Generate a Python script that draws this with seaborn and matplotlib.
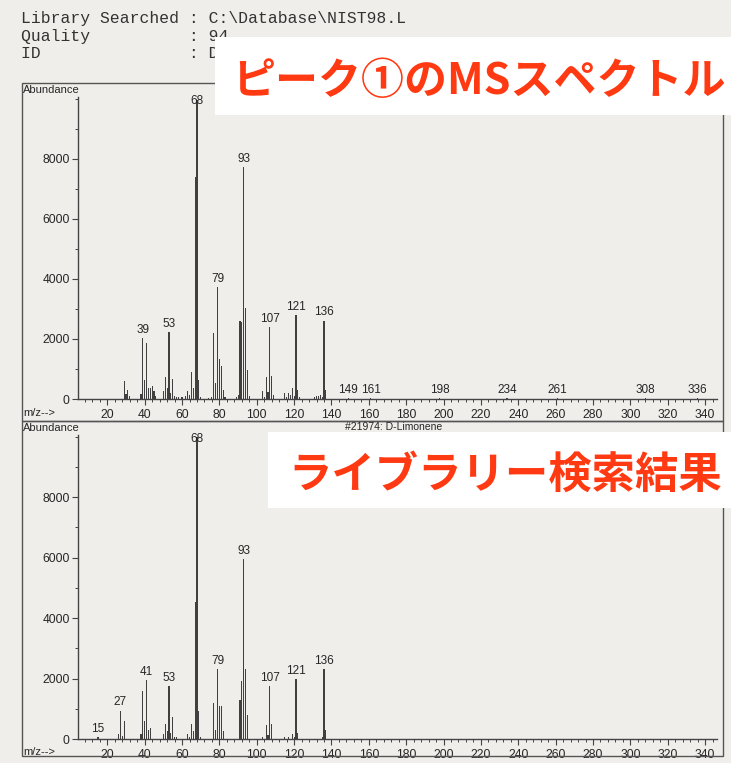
import matplotlib
matplotlib.use("Agg")
import matplotlib.pyplot as plt
import seaborn as sns
from matplotlib.patches import Rectangle
from matplotlib.ticker import MultipleLocator

# ---- sample spectrum (peak 1) ----
sample_mz = [29, 30, 31, 32, 38, 39, 40, 41, 42, 43, 44, 45, 46, 50, 51, 52, 53, 54, 55, 56,
             57, 58, 60, 62, 63, 64, 65, 66, 67, 68, 69, 70, 74, 76, 77, 78, 79, 80, 81, 82,
             83, 89, 90, 91, 92, 93, 94, 95, 96, 103, 104, 105, 106, 107, 108, 109, 115, 116,
             117, 118, 119, 120, 121, 122, 123, 131, 132, 133, 134, 135, 136, 137,
             149, 161, 198, 234, 261, 308, 336]
sample_ab = [600, 150, 300, 100, 150, 2040, 620, 1880, 380, 350, 420, 280, 100, 250, 720, 380,
             2240, 200, 650, 100, 80, 60, 50, 100, 250, 120, 900, 350, 7400, 9950, 640, 60, 40,
             80, 2200, 520, 3720, 1320, 1100, 300, 80, 80, 120, 2580, 2560, 7720, 3030, 950,
             100, 250, 80, 740, 220, 2390, 750, 120, 200, 80, 200, 120, 350, 100, 2780, 300, 60,
             60, 100, 100, 120, 80, 2610, 300, 30, 30, 25, 25, 25, 25, 25]
sample_labels = [39, 53, 68, 79, 93, 107, 121, 136, 149, 161, 198, 234, 261, 308, 336]

# ---- library hit #21974: D-Limonene ----
library_mz = [15, 26, 27, 28, 29, 38, 39, 40, 41, 42, 43, 50, 51, 52, 53, 54, 55, 56, 57, 63,
              64, 65, 66, 67, 68, 69, 70, 77, 78, 79, 80, 81, 82, 91, 92, 93, 94, 95, 103, 105,
              106, 107, 108, 115, 117, 119, 120, 121, 122, 135, 136, 137]
library_ab = [50, 150, 940, 100, 580, 150, 1580, 600, 1940, 300, 350, 150, 480, 250, 1740, 200,
              740, 80, 60, 150, 80, 500, 250, 4540, 10000, 940, 60, 1190, 300, 2300, 1100, 1100,
              250, 1300, 1930, 5960, 2300, 780, 80, 450, 120, 1740, 500, 60, 60, 150, 80, 1990,
              200, 80, 2300, 300]
library_labels = [15, 27, 41, 53, 68, 79, 93, 107, 121, 136]

y_ticks = [0, 2000, 4000, 6000, 8000]
x_ticks = list(range(20, 341, 20))

header_lines = ["Library Searched : C:\\Database\\NIST98.L",
                "Quality          : 94",
                "ID               : D-Limonene"]
title_top = "ピーク①のMSスペクトル"
title_bottom = "ライブラリー検索結果"
hit_name = "#21974: D-Limonene"

W, H = 731, 763
PAPER = "#efeeeb"
INK = "#262626"
BAR = "#404040"
RED = "#ff3a12"

sns.set_theme(style="white")
plt.rcParams["font.family"] = ["Liberation Sans", "DejaVu Sans"]

fig = plt.figure(figsize=(W / 100, H / 100), dpi=100, facecolor=PAPER)


def fx(x):
    return x / W


def fy(y):
    return 1 - y / H


def spectrum(ax_box, mz, ab, labels):
    left, top, right, bottom = ax_box
    ax = fig.add_axes([fx(left), fy(bottom), fx(right) - fx(left), fy(top) - fy(bottom)])
    ax.set_facecolor("none")
    sns.histplot(x=mz, weights=ab, discrete=True, shrink=0.6, color=BAR, alpha=1.0,
                 linewidth=0, ax=ax)
    ax.set_xlim(4.3, 346.4)
    ax.set_ylim(0, 10050)
    ax.set_xlabel("")
    ax.set_ylabel("")
    sns.despine(ax=ax)
    for s in ("left", "bottom"):
        ax.spines[s].set_color("#444444")
        ax.spines[s].set_linewidth(1.0)
    ax.set_xticks(x_ticks)
    ax.xaxis.set_minor_locator(MultipleLocator(4))
    ax.set_yticks(y_ticks)
    ax.yaxis.set_minor_locator(MultipleLocator(1000))
    ax.tick_params(axis="x", which="major", direction="out", length=4.5, width=0.8,
                   pad=3, labelsize=8.7, labelcolor=INK, color="#444444", bottom=True)
    ax.tick_params(axis="x", which="minor", direction="out", length=2.5, width=0.7,
                   color="#444444", bottom=True)
    ax.tick_params(axis="y", which="major", direction="out", length=4, width=0.8,
                   pad=2, labelsize=8.7, labelcolor=INK, color="#444444", left=True)
    ax.tick_params(axis="y", which="minor", direction="out", length=2, width=0.7,
                   color="#444444", left=True)
    ax.grid(False)
    lookup = dict(zip(mz, ab))
    for m in labels:
        ax.annotate(str(m), (m, min(lookup[m], 9650)), xytext=(0, 1.5),
                    textcoords="offset points", ha="center", va="bottom",
                    fontsize=8.5, color=INK)
    return ax


# panel frames
for (t, b) in ((83, 421), (421, 756)):
    fig.add_artist(Rectangle((fx(22), fy(b)), fx(723) - fx(22), fy(t) - fy(b),
                             transform=fig.transFigure, fill=False, ec="#555555", lw=1.0,
                             zorder=1))

spectrum((78, 97, 717, 399), sample_mz, sample_ab, sample_labels)
spectrum((78, 435, 717, 739), library_mz, library_ab, library_labels)

# panel captions
for y in (90, 428):
    fig.text(fx(23), fy(y), "Abundance", fontsize=8, color=INK, ha="left", va="center")
for y in (413, 752):
    fig.text(fx(23), fy(y), "m/z-->", fontsize=8, color=INK, ha="left", va="center")
fig.text(fx(345), fy(427), hit_name, fontsize=7.5, color=INK, ha="left", va="center")

# report header
for i, line in enumerate(header_lines):
    fig.text(fx(21), fy(18 + 18 * i), line, family="Liberation Mono", fontsize=11.8,
             color="#333333", ha="left", va="center", zorder=2)

# red captions on white panels, sized to span their panel
renderer = fig.canvas.get_renderer()
for (l, t, r, b), text, tx, tr in (((215, 37, 731, 115), title_top, 232, 726),
                                   ((268, 432, 731, 508), title_bottom, 288, 722)):
    fig.add_artist(Rectangle((fx(l), fy(b)), fx(r) - fx(l), fy(t) - fy(b),
                             transform=fig.transFigure, fc="white", ec="none", zorder=10))
    txt = fig.text(fx(tx), fy((t + b) / 2), text, family=["Noto Sans CJK JP", "DejaVu Sans"],
                   fontsize=32, fontweight="bold", color=RED, ha="left",
                   va="center_baseline", zorder=11)
    width = txt.get_window_extent(renderer).width
    txt.set_fontsize(32 * (tr - tx) / width)

fig.savefig("out.png", dpi=100, facecolor=PAPER)
